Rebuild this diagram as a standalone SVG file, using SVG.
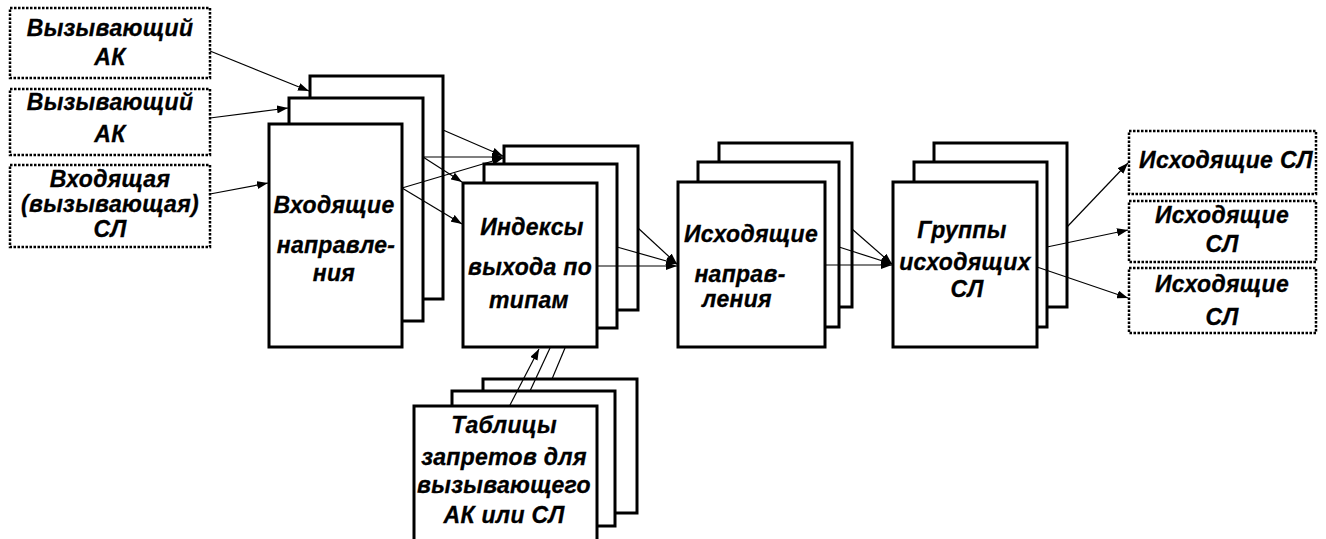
<svg xmlns="http://www.w3.org/2000/svg" width="1326" height="539" viewBox="0 0 1326 539">
<style>
.box{fill:#fff;stroke:#000;stroke-width:3}
.dash{fill:#fff;stroke:#000;stroke-width:2.5;stroke-dasharray:2.5 1.5}
.t{font-family:"Liberation Sans",Arial,sans-serif;font-weight:bold;font-style:italic;font-size:23px;letter-spacing:0.3px;text-anchor:middle;fill:#000;stroke:#000;stroke-width:0.3}
.c line{stroke:#000;stroke-width:1.2}
.a{marker-end:url(#ah)}
</style>
<defs>
<marker id="ah" markerUnits="userSpaceOnUse" markerWidth="11" markerHeight="8" refX="11" refY="4" orient="auto">
<path d="M0,0 L11,4 L0,8 z" fill="#000"/>
</marker>
</defs>
<rect width="1326" height="539" fill="#fff"/>

<g id="src1"><rect class="dash" x="10" y="8" width="200" height="70"/>
<text class="t" x="110" y="36">Вызывающий</text><text class="t" x="110" y="65">АК</text></g>
<g id="src2"><rect class="dash" x="10" y="89" width="200" height="66"/>
<text class="t" x="110" y="110">Вызывающий</text><text class="t" x="110" y="142">АК</text></g>
<g id="src3"><rect class="dash" x="10" y="165" width="200" height="82"/>
<text class="t" x="110" y="187">Входящая</text><text class="t" x="110" y="212">(вызывающая)</text><text class="t" x="110" y="237">СЛ</text></g>

<g id="incoming">
<rect class="box" x="310" y="76" width="133" height="223"/>
<rect class="box" x="289" y="98" width="134" height="223"/>
<rect class="box" x="269" y="124" width="133" height="223"/>
<text class="t" x="334" y="213">Входящие</text><text class="t" x="336" y="253">направле-</text><text class="t" x="334" y="281">ния</text></g>

<g id="indexes">
<rect class="box" x="504" y="146" width="134" height="164"/>
<rect class="box" x="484" y="164" width="133" height="164"/>
<rect class="box" x="463" y="183" width="134" height="164"/>
<text class="t" x="532" y="235">Индексы</text><text class="t" x="530" y="275">выхода по</text><text class="t" x="529" y="308">типам</text></g>

<g id="outgoing">
<rect class="box" x="719" y="143" width="133" height="164"/>
<rect class="box" x="698" y="162" width="141" height="165"/>
<rect class="box" x="678" y="182" width="147" height="165"/>
<text class="t" x="751" y="242">Исходящие</text><text class="t" x="740" y="282">направ-</text><text class="t" x="737" y="307">ления</text></g>

<g id="groups">
<rect class="box" x="934" y="143" width="133" height="164"/>
<rect class="box" x="914" y="162" width="133" height="165"/>
<rect class="box" x="893" y="182" width="144" height="165"/>
<text class="t" x="962" y="238">Группы</text><text class="t" x="965" y="270">исходящих</text><text class="t" x="967" y="297">СЛ</text></g>

<g id="out1"><rect class="dash" x="1129" y="131" width="187" height="63"/>
<text class="t" x="1226" y="168">Исходящие СЛ</text></g>
<g id="out2"><rect class="dash" x="1129" y="201" width="187" height="61"/>
<text class="t" x="1222" y="223">Исходящие</text><text class="t" x="1222" y="252">СЛ</text></g>
<g id="out3"><rect class="dash" x="1129" y="268" width="187" height="65"/>
<text class="t" x="1222" y="292">Исходящие</text><text class="t" x="1222" y="325">СЛ</text></g>

<g id="tables">
<rect class="box" x="483" y="379" width="154" height="134"/>
<rect class="box" x="452" y="391" width="163" height="135"/>
<rect class="box" x="414" y="406" width="183" height="140"/>
<text class="t" x="504" y="433">Таблицы</text><text class="t" x="504" y="465">запретов для</text><text class="t" x="504" y="493">вызывающего</text><text class="t" x="504" y="523">АК или СЛ</text></g>

<g id="connectors" class="c">
<line class="a" x1="210" y1="51" x2="309" y2="91"/>
<line class="a" x1="210" y1="118" x2="288" y2="108"/>
<line class="a" x1="210" y1="194" x2="268" y2="183"/>
<line class="a" x1="443" y1="130" x2="503" y2="156"/>
<line class="a" x1="423" y1="157" x2="503" y2="157"/>
<line class="a" x1="402" y1="188" x2="503" y2="158"/>
<line class="a" x1="423" y1="157" x2="462" y2="182"/>
<line class="a" x1="402" y1="188" x2="462" y2="224"/>
<line class="a" x1="638" y1="228" x2="677" y2="264"/>
<line class="a" x1="617" y1="247" x2="677" y2="264"/>
<line class="a" x1="597" y1="266" x2="677" y2="266"/>
<line class="a" x1="852" y1="229" x2="892" y2="264"/>
<line class="a" x1="839" y1="247" x2="892" y2="264"/>
<line class="a" x1="825" y1="265" x2="892" y2="265"/>
<line class="a" x1="1067" y1="227" x2="1128" y2="163"/>
<line class="a" x1="1047" y1="247" x2="1128" y2="230"/>
<line class="a" x1="1037" y1="267" x2="1128" y2="298"/>
<line class="a" x1="510" y1="405" x2="539" y2="349"/>
<line x1="530" y1="391" x2="550" y2="348"/>
<line x1="552" y1="379" x2="565" y2="348"/>
</g>
</svg>
